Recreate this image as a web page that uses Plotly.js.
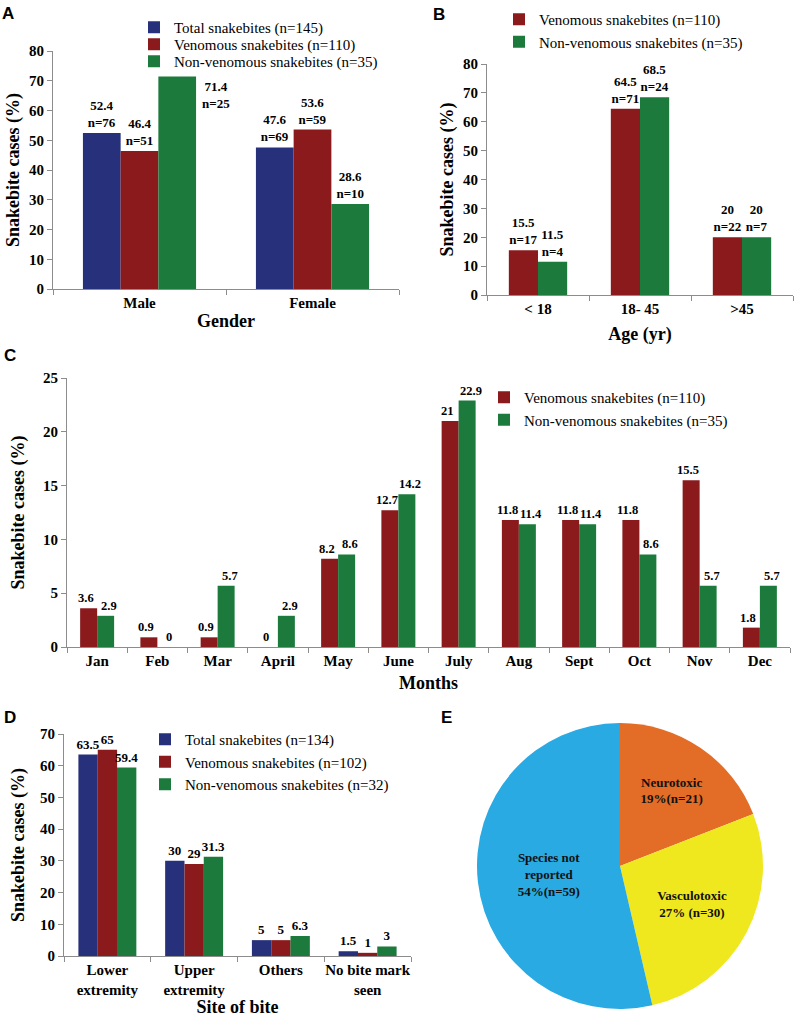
<!DOCTYPE html>
<html>
<head>
<meta charset="utf-8">
<script src="https://cdn.plot.ly/plotly-3.0.1.min.js"></script>
<style>html,body{margin:0;padding:0;background:#fff;}#chart{width:798px;height:1017px;}</style>
</head>
<body>
<div id="chart"></div>
<script>
// ---------- Data ----------
// Panel A: gender
const genderCats = ['Male', 'Female'];
const genderTotal = [52.4, 47.6];
const genderTotalN = [76, 69];
const genderVen = [46.4, 53.6];
const genderVenN = [51, 59];
const genderNonVen = [71.4, 28.6];
const genderNonVenN = [25, 10];

// Panel B: age
const ageCats = ['< 18', '18- 45', '>45'];
const ageVen = [15.5, 64.5, 20];
const ageVenN = [17, 71, 22];
const ageNonVen = [11.5, 68.5, 20];
const ageNonVenN = [4, 24, 7];

// Panel C: months
const monthCats = ['Jan', 'Feb', 'Mar', 'April', 'May', 'June', 'July', 'Aug', 'Sept', 'Oct', 'Nov', 'Dec'];
const monthVen = [3.6, 0.9, 0.9, 0, 8.2, 12.7, 21, 11.8, 11.8, 11.8, 15.5, 1.8];
const monthNonVen = [2.9, 0, 5.7, 2.9, 8.6, 14.2, 22.9, 11.4, 11.4, 8.6, 5.7, 5.7];

// Panel D: site of bite
const siteCats = ['Lower<br>extremity', 'Upper<br>extremity', 'Others', 'No bite mark<br>seen'];
const siteTotal = [63.5, 30, 5, 1.5];
const siteVen = [65, 29, 5, 1];
const siteNonVen = [59.4, 31.3, 6.3, 3];

// Panel E: species
const speciesLabels = ['Neurotoxic', 'Vasculotoxic', 'Species not<br>reported'];
const speciesN = [21, 30, 59];
const speciesPct = [19, 27, 54];
const speciesSep = ['', ' ', ''];

// ---------- Styles ----------
const NAVY = '#27307a', RED = '#8a1a1c', GREEN = '#1c7a3c';
const SERIF = '"Liberation Serif"';
const lblFont = {family: SERIF, size: 13, color: '#000', weight: 700};
const lblFontC = {family: SERIF, size: 12.5, color: '#000', weight: 700};
const W = 798, H = 1017;
const px = v => v / W;
const py = v => 1 - v / H;

function withN(vals, ns) { return vals.map((v, i) => v + '<br>n=' + ns[i]); }

function bar(cats, vals, text, name, color, xa, ya, legend, w, off, tpos, tfont) {
  return {
    type: 'bar', x: cats, y: vals, name: name, text: text,
    textposition: tpos || 'outside', texttemplate: '%{text}', textfont: tfont || lblFont, constraintext: 'none',
    marker: {color: color}, xaxis: xa, yaxis: ya, legend: legend,
    width: w, offset: off, cliponaxis: false, hoverinfo: 'skip'
  };
}

const traces = [
  // A
  bar(genderCats, genderTotal, withN(genderTotal, genderTotalN), 'Total snakebites (n=145)', NAVY, 'x', 'y', 'legend', 0.218, -0.327),
  bar(genderCats, genderVen, withN(genderVen, genderVenN), 'Venomous snakebites (n=110)', RED, 'x', 'y', 'legend5', 0.218, -0.109),
  bar(genderCats, genderNonVen, withN(genderNonVen, genderNonVenN), 'Non-venomous snakebites (n=35)', GREEN, 'x', 'y', 'legend6', 0.218, 0.109, ['none', 'outside']),
  // B
  bar(ageCats, ageVen, withN(ageVen, ageVenN), 'Venomous snakebites (n=110)', RED, 'x2', 'y2', 'legend2', 0.286, -0.286),
  bar(ageCats, ageNonVen, withN(ageNonVen, ageNonVenN), 'Non-venomous snakebites (n=35)', GREEN, 'x2', 'y2', 'legend2', 0.286, 0),
  // C (labels drawn as annotations below)
  bar(monthCats, monthVen, null, 'Venomous snakebites (n=110)', RED, 'x3', 'y3', 'legend3', 0.282, -0.282, 'none'),
  bar(monthCats, monthNonVen, null, 'Non-venomous snakebites (n=35)', GREEN, 'x3', 'y3', 'legend3', 0.282, 0, 'none'),
  // D
  bar(siteCats, siteTotal, siteTotal.map(String), 'Total snakebites (n=134)', NAVY, 'x4', 'y4', 'legend4', 0.223, -0.334),
  bar(siteCats, siteVen, siteVen.map(String), 'Venomous snakebites (n=102)', RED, 'x4', 'y4', 'legend4', 0.223, -0.111),
  bar(siteCats, siteNonVen, siteNonVen.map(String), 'Non-venomous snakebites (n=32)', GREEN, 'x4', 'y4', 'legend4', 0.223, 0.111),
  // E
  {
    type: 'pie', values: speciesN, labels: speciesLabels,
    text: speciesLabels.map((l, i) => l + '<br>' + speciesPct[i] + '%' + speciesSep[i] + '(n=' + speciesN[i] + ')'),
    textinfo: 'text', textposition: 'inside', insidetextorientation: 'horizontal',
    insidetextfont: {family: SERIF, size: 13, color: '#111', weight: 700},
    marker: {colors: ['#e36c26', '#f0e81e', '#2aaae2'], line: {width: 0}},
    sort: false, direction: 'clockwise', rotation: 0, showlegend: false,
    domain: {x: [px(477), px(763)], y: [py(1009), py(723)]}, hoverinfo: 'skip'
  }
];

const tickFontY = {family: SERIF, size: 15, color: '#000', weight: 700};
const tickFontX = {family: SERIF, size: 15, color: '#000', weight: 700};
const titleFont = {family: SERIF, size: 18, color: '#000', weight: 700};

function xax(dom, anchor, title, standoff) {
  return {domain: dom, anchor: anchor, type: 'category', showline: true, linecolor: '#8c8c8c', linewidth: 1,
    ticks: 'outside', tickson: 'boundaries', ticklen: 5, tickcolor: '#8c8c8c', showgrid: false, zeroline: false,
    tickangle: 0, automargin: false,
    tickfont: tickFontX, title: {text: title, font: titleFont, standoff: standoff}, fixedrange: true};
}
function yax(dom, anchor, range, dtick, standoff) {
  return {domain: dom, anchor: anchor, range: range, dtick: dtick, showline: true, linecolor: '#8c8c8c', linewidth: 1,
    ticks: 'outside', ticklen: 5, tickcolor: '#8c8c8c', showgrid: false, zeroline: false, automargin: false,
    tickfont: tickFontY, title: {text: 'Snakebite cases (%)', font: titleFont, standoff: standoff}, fixedrange: true};
}
function leg(x, y, size) {
  return {x: x, y: y, xanchor: 'left', yanchor: 'top', font: {family: SERIF, size: size, color: '#000'},
    bgcolor: 'rgba(0,0,0,0)', tracegroupgap: 0, itemclick: false};
}

const letterFont = {family: '"Liberation Sans"', size: 17, color: '#000', weight: 700};
function letter(t, x, y) {
  return {text: t, x: px(x), y: py(y), xref: 'paper', yref: 'paper', xanchor: 'left', yanchor: 'top', showarrow: false, font: letterFont};
}

// Month value labels, positioned on each bar through the axes
function monthLabels(vals, shift) {
  return vals.map((v, i) => ({
    text: String(v), x: monthCats[i], y: v, xref: 'x3', yref: 'y3', xshift: shift, yshift: 1,
    yanchor: 'bottom', showarrow: false, font: lblFontC
  }));
}

const layout = {
  width: W, height: H, margin: {l: 0, r: 0, t: 0, b: 0},
  paper_bgcolor: '#fff', plot_bgcolor: '#fff', barmode: 'group', showlegend: true,
  font: {family: SERIF, color: '#000'},
  xaxis: xax([px(53), px(399)], 'y', 'Gender', 4),
  yaxis: yax([py(289), py(51)], 'x', [0, 80], 10, 4),
  xaxis2: xax([px(487), px(793)], 'y2', 'Age (yr)', 11),
  yaxis2: yax([py(295), py(64)], 'x2', [0, 80], 10, 4),
  xaxis3: xax([px(67), px(790)], 'y3', 'Months', 8),
  yaxis3: yax([py(647), py(378)], 'x3', [0, 25], 5, 13),
  xaxis4: xax([px(64), px(411)], 'y4', 'Site of bite', 0),
  yaxis4: yax([py(956), py(734)], 'x4', [0, 70], 10, 10),
  legend: leg(px(134), py(11), 15),
  legend5: leg(px(134), py(28), 15),
  legend6: leg(px(134), py(45), 15),
  legend2: leg(px(499), py(3), 15),
  legend3: leg(px(484), py(381), 15),
  legend4: leg(px(145), py(723), 15),
  annotations: [
    letter('A', 0, 2), letter('B', 431, 3), letter('C', 2, 344), letter('D', 2, 706), letter('E', 439, 706),
    {text: genderNonVen[0] + '<br>n=' + genderNonVenN[0], x: genderCats[0], y: genderNonVen[0], xref: 'x', yref: 'y',
     xshift: 76, yanchor: 'top', showarrow: false, font: lblFont}
  ].concat(monthLabels(monthVen, -11.5), monthLabels(monthNonVen, 12))
};

Plotly.newPlot('chart', traces, layout, {staticPlot: true});
</script>
</body>
</html>
